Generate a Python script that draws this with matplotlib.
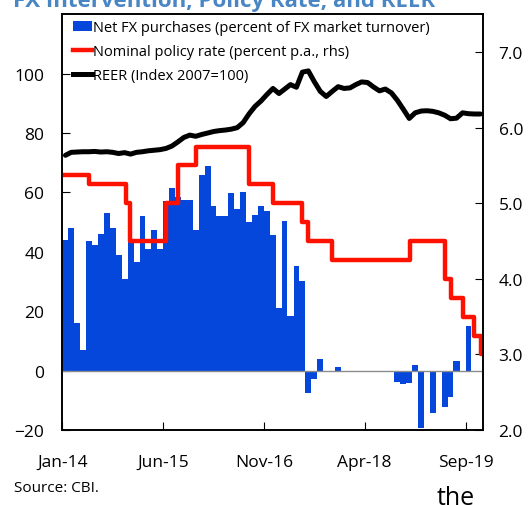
import numpy as np
import pandas as pd
import matplotlib
matplotlib.use("Agg")
import matplotlib.pyplot as plt
from matplotlib.patches import Patch
from matplotlib.lines import Line2D

plt.rcParams['font.family'] = ['Open Sans', 'DejaVu Sans']

# monthly data, Jan-2014 .. Nov-2019
start_month = '2014-01-01'
n_months = 71

# net FX purchases, percent of FX market turnover
fx_purchases = [44.1, 47.9, 16.2, 7.1, 43.7, 42.2, 46.0, 53.1, 48.1, 38.8,
                30.9, 44.0, 36.5, 52.0, 41.1, 47.3, 41.0, 57.0, 61.5, 58.5,
                57.6, 57.3, 47.2, 65.9, 68.8, 55.6, 52.2, 52.2, 59.8, 54.4,
                60.0, 50.1, 52.5, 55.3, 53.9, 45.6, 21.0, 50.3, 18.5, 35.4,
                30.3, -7.5, -2.8, 3.9, 0.0, 0.0, 1.3, 0.0, 0.0, 0.0,
                0.0, 0.0, 0.0, 0.0, 0.0, 0.0, -3.9, -4.6, -4.3, 1.9,
                -19.3, 0.0, -14.4, 0.0, -12.2, -8.8, 3.4, 0.0, 15.2, 0.0,
                0.0]

# REER, index 2007=100
reer = [72.5, 73.5, 73.6, 73.7, 73.7, 73.8, 73.6, 73.7, 73.5, 73.1,
        73.4, 72.9, 73.5, 73.7, 74.0, 74.2, 74.4, 74.8, 75.6, 77.0,
        78.5, 79.3, 78.9, 79.5, 80.0, 80.5, 80.8, 81.0, 81.3, 81.8,
        83.5, 86.5, 89.0, 90.8, 93.0, 95.0, 93.3, 94.8, 96.3, 95.4,
        100.5, 100.9, 97.3, 94.0, 92.3, 94.0, 95.6, 95.0, 95.2, 96.3,
        97.2, 97.0, 95.5, 94.2, 94.8, 93.5, 91.0, 88.0, 84.9, 86.8,
        87.4, 87.5, 87.3, 86.8, 86.0, 84.8, 85.0, 86.8, 86.5, 86.4,
        86.4]

# nominal policy rate, percent p.a. (decision dates)
rate_dates = ['2014-01-01', '2014-05-19', '2014-11-24', '2014-12-16',
              '2015-06-19', '2015-08-19', '2015-11-19', '2016-08-13',
              '2016-12-16', '2017-05-16', '2017-06-13', '2017-10-16',
              '2018-11-19', '2019-05-16', '2019-06-19', '2019-08-19',
              '2019-10-16', '2019-11-19', '2019-11-29']
rates = [5.38, 5.25, 5.0, 4.5, 5.0, 5.5, 5.75, 5.25, 5.0, 4.75, 4.5, 4.25,
         4.5, 4.0, 3.75, 3.5, 3.25, 3.0, 3.0]

tick_labels = ['Jan-14', 'Jun-15', 'Nov-16', 'Apr-18', 'Sep-19']

months = pd.date_range(start_month, periods=n_months, freq='MS')
days = np.asarray(months.days_in_month)
mid = months + pd.to_timedelta(days / 2.0, unit='D')

fig = plt.figure(figsize=(5.29, 5.06), dpi=100)
ax = fig.add_axes([0.118, 0.148, 0.7956, 0.822])
ax2 = ax.twinx()

ax.bar(months, fx_purchases, width=days, align='edge', color='#0547db',
       linewidth=0, zorder=2)
ax.axhline(0, color='#8c8c8c', lw=1.0, zorder=3)
ax.plot(mid, reer, color='black', lw=3.6, zorder=4, solid_capstyle='round')

ax2.step(pd.to_datetime(rate_dates), rates, where='post', color='#ff1100',
         lw=3.2, solid_capstyle='round')

ax.set_xlim(months[0], pd.Timestamp('2019-12-01'))
ax.set_ylim(-20, 120)
ax.set_yticks(np.arange(-20, 101, 20))
ax2.set_ylim(2.0, 7.5)
ax2.set_yticks(np.arange(2.0, 7.1, 1.0))
ax2.set_yticklabels(['%.1f' % v for v in np.arange(2.0, 7.1, 1.0)])

ax.set_xticks(pd.to_datetime(tick_labels, format='%b-%y'))
ax.set_xticklabels(tick_labels)

ax.tick_params(axis='y', direction='in', length=6, labelsize=12.5, pad=13)
ax.tick_params(axis='x', direction='in', length=6, labelsize=12.5, pad=17)
ax2.tick_params(axis='y', direction='in', length=6, labelsize=12.5, pad=11)
for a in (ax, ax2):
    for s in a.spines.values():
        s.set_linewidth(1.2)

handles = [Patch(facecolor='#0547db', edgecolor='none'),
           Line2D([], [], color='#ff1100', lw=3.2),
           Line2D([], [], color='black', lw=3.6)]
labels = ['Net FX purchases (percent of FX market turnover)',
          'Nominal policy rate (percent p.a., rhs)',
          'REER (Index 2007=100)']
ax2.legend(handles, labels, loc='upper left', bbox_to_anchor=(0.0, 1.01),
           frameon=False, fontsize=10.5, handlelength=1.3, handletextpad=0.1,
           labelspacing=0.6, borderaxespad=0.3)

fig.text(0.025, 0.986, 'FX Intervention, Policy Rate, and REER', fontsize=16,
         fontweight='bold', color='#4a86c4', va='baseline')
fig.text(0.026, 0.028, 'Source: CBI.', fontsize=11)
fig.text(0.826, 0.002, 'the', fontsize=18, va='baseline')

fig.savefig('out.png', dpi=100)
